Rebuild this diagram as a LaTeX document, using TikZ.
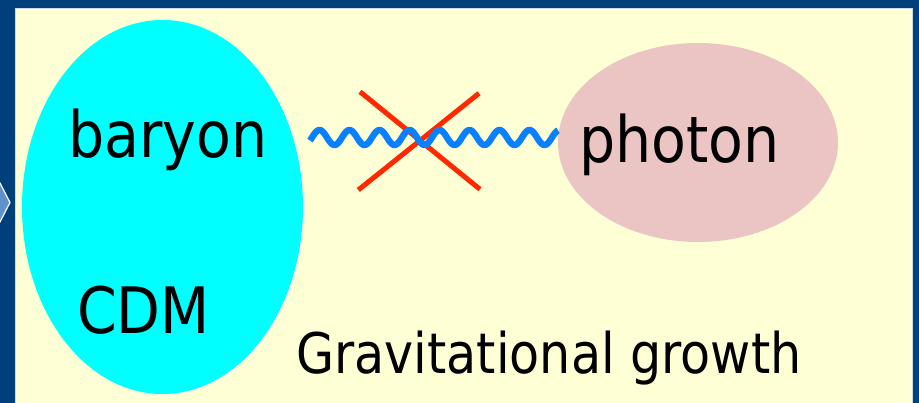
\documentclass[tikz,border=0pt]{standalone}
\usepackage{fontspec}
\setmainfont[FakeStretch=0.89]{DejaVu Sans}
\newfontfamily\gravfont[FakeStretch=0.878]{DejaVu Sans}
\usetikzlibrary{shapes.geometric}
\definecolor{navy}{RGB}{0,64,122}
\definecolor{panel}{RGB}{255,255,214}
\definecolor{paneledge}{RGB}{205,218,232}
\definecolor{blobcyan}{RGB}{0,255,255}
\definecolor{blobpink}{RGB}{235,196,196}
\definecolor{wavecol}{RGB}{10,128,255}
\definecolor{crosscol}{RGB}{255,40,0}
\definecolor{chevcol}{RGB}{95,145,205}
\tikzset{
  blob/.style={ellipse, draw=none, inner sep=0pt},
  bigtext/.style={anchor=base west, inner sep=0pt, text=black, font=\fontsize{64}{70}\selectfont},
  smalltext/.style={anchor=base west, inner sep=0pt, text=black, font=\gravfont\fontsize{56}{62}\selectfont},
  wavestyle/.style={draw=wavecol, line width=6.5pt, line join=round},
  crossline/.style={draw=crosscol, line width=5pt}
}
\begin{document}
\begin{tikzpicture}[x=1pt,y=-1pt]
\useasboundingbox (0,0) rectangle (919,403);
\fill[navy] (0,0) rectangle (919,403);
\fill[panel] (15.5,8.5) rectangle (912,404);
\draw[paneledge, line width=1pt] (15.5,404) -- (15.5,8.5) -- (912,8.5) -- (912,404);
\begin{scope}
\clip (0,0) rectangle (15,403);
\draw[fill=chevcol, draw=white, line width=1.2pt] (-6,183) -- (0,183) -- (10,202.5) -- (0,222) -- (-6,222) -- cycle;
\end{scope}
% blobs
\node[blob, fill=blobcyan, minimum width=281pt, minimum height=374pt] (cdmblob) at (162.5,207) {};
\node[blob, fill=blobpink, minimum width=280pt, minimum height=199pt] (photonblob) at (698,142.5) {};
% texts
\node[bigtext] (baryon) at (68,157.7) {baryon};
\node[bigtext] (cdm) at (77,334) {CDM};
\node[bigtext] (photon) at (579,163) {photon};
\node[smalltext] (grav) at (296,373.5) {Gravitational growth};
% cross
\coordinate (xa) at (360,91.7);
\coordinate (xb) at (480,189.3);
\coordinate (xc) at (358.3,190);
\coordinate (xd) at (479,93.3);
\draw[crossline] (xa) -- (xb);
\draw[crossline] (xc) -- (xd);
% wave
\coordinate (w1) at (310,137.5);
\coordinate (w2) at (558,137.5);
\draw[wavestyle] (w1) plot[domain=310:558, samples=300] (\x, {137.5-7.5*sin(12*(\x-312))});
\end{tikzpicture}
\end{document}
